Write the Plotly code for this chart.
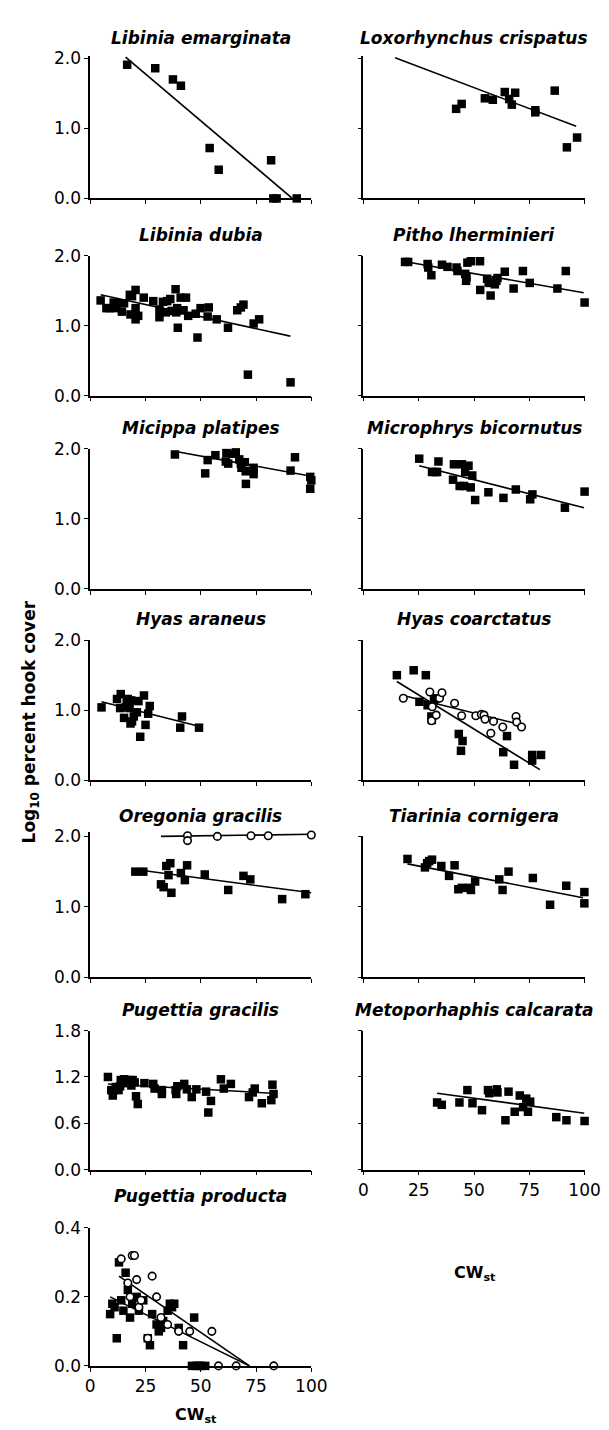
import plotly.graph_objects as go

# ---------------- data ----------------
# Libinia emarginata
le_x = [16.7, 29.4, 37.4, 41.0, 54.0, 58.1, 81.8, 82.8, 84.3, 93.4]
le_y = [1.91, 1.86, 1.70, 1.61, 0.72, 0.41, 0.545, 0.0, 0.0, 0.0]
le_fit_x = [16.0, 91.4]
le_fit_y = [2.02, 0.0]

# Loxorhynchus crispatus
lc_x = [41.9, 44.4, 54.9, 58.5, 63.9, 65.9, 67.1, 68.6, 77.7, 77.7, 86.5, 92.0, 96.6]
lc_y = [1.28, 1.35, 1.43, 1.41, 1.52, 1.42, 1.34, 1.51, 1.26, 1.23, 1.54, 0.73, 0.87]
lc_fit_x = [14.3, 96.2]
lc_fit_y = [2.01, 1.03]

# Libinia dubia
ld_x = [4.7, 7.3, 8.7, 10.6, 11.4, 12.1, 14.3, 15.3, 17.9, 18.2, 18.9, 20.5, 20.5, 20.5,
        21.7, 24.2, 28.5, 31.3, 31.3, 32.9, 34.2, 34.8, 36.2, 36.8, 38.6, 38.9, 39.3, 39.6,
        40.9, 41.5, 43.3, 44.3, 42.2, 47.7, 48.5, 49.9, 53.1, 53.6, 57.2, 62.3, 66.5, 68.1,
        69.3, 71.3, 73.9, 76.4, 90.6]
ld_y = [1.36, 1.25, 1.25, 1.33, 1.25, 1.32, 1.20, 1.32, 1.44, 1.16, 1.42, 1.51, 1.25, 1.09,
        1.14, 1.40, 1.35, 1.23, 1.12, 1.34, 1.19, 1.35, 1.38, 1.21, 1.52, 1.19, 1.25, 0.97,
        1.40, 1.22, 1.40, 1.14, 1.22, 1.17, 0.83, 1.25, 1.13, 1.26, 1.09, 0.97, 1.22, 1.26,
        1.30, 0.30, 1.03, 1.09, 0.19]
ld_fit_x = [4.7, 90.5]
ld_fit_y = [1.44, 0.85]

# Pitho lherminieri
pl_x = [18.8, 20.2, 29.0, 29.3, 30.7, 35.5, 38.0, 42.1, 42.5, 46.0, 46.6, 46.4, 47.0, 48.6,
        52.7, 52.8, 55.9, 56.6, 57.1, 57.5, 59.4, 60.1, 60.6, 63.9, 67.9, 72.1, 75.2, 87.7,
        91.5, 100.0]
pl_y = [1.91, 1.91, 1.88, 1.83, 1.72, 1.87, 1.84, 1.83, 1.78, 1.74, 1.69, 1.64, 1.90, 1.92,
        1.92, 1.51, 1.67, 1.62, 1.61, 1.43, 1.59, 1.64, 1.68, 1.77, 1.53, 1.78, 1.61, 1.53,
        1.78, 1.33]
pl_fit_x = [19.7, 99.6]
pl_fit_y = [1.91, 1.47]

# Micippa platipes
mp_x = [38.3, 52.0, 53.1, 56.6, 61.6, 61.3, 62.4, 64.8, 65.8, 67.4, 68.1, 68.4, 69.9, 70.3,
        70.4, 73.9, 73.9, 90.6, 92.6, 99.5, 100.0, 99.5]
mp_y = [1.92, 1.65, 1.84, 1.91, 1.94, 1.82, 1.79, 1.93, 1.95, 1.85, 1.79, 1.73, 1.81, 1.68,
        1.50, 1.73, 1.64, 1.69, 1.88, 1.60, 1.55, 1.43]
mp_fit_x = [39.3, 100.0]
mp_fit_y = [1.96, 1.61]

# Microphrys bicornutus
mb_x = [25.2, 31.0, 32.5, 33.3, 33.9, 40.5, 40.9, 43.5, 44.5, 45.5, 46.0, 47.5, 48.5, 49.2,
        50.5, 56.5, 63.3, 68.9, 75.4, 76.4, 91.1, 100.0]
mb_y = [1.86, 1.67, 1.67, 1.67, 1.82, 1.56, 1.78, 1.47, 1.78, 1.47, 1.67, 1.76, 1.45, 1.62,
        1.27, 1.38, 1.30, 1.42, 1.28, 1.35, 1.16, 1.39]
mb_fit_x = [25.2, 99.8]
mb_fit_y = [1.76, 1.16]

# Hyas araneus
ha_x = [5.1, 12.1, 13.8, 13.5, 15.3, 16.0, 16.5, 17.0, 17.8, 18.2, 18.9, 18.5, 19.7, 21.1,
        21.8, 22.6, 24.3, 25.0, 26.2, 26.9, 41.5, 40.7, 49.2]
ha_y = [1.04, 1.16, 1.23, 1.03, 0.89, 1.04, 1.12, 1.16, 1.03, 0.81, 0.84, 1.14, 0.91, 0.97,
        1.13, 0.62, 1.21, 0.79, 0.95, 1.06, 0.91, 0.75, 0.75]
ha_fit_x = [5.1, 49.2]
ha_fit_y = [1.12, 0.77]

# Hyas coarctatus (filled squares and open circles)
hc_sq_x = [15.1, 22.7, 28.2, 25.3, 29.0, 30.7, 30.9, 31.9, 32.6, 43.1, 44.8, 44.1, 63.2, 64.9,
           68.1, 76.3, 76.3, 80.3]
hc_sq_y = [1.50, 1.57, 1.50, 1.12, 1.07, 0.91, 0.86, 1.14, 1.17, 0.66, 0.56, 0.42, 0.40, 0.63,
           0.22, 0.36, 0.28, 0.36]
hc_sq_fit_x = [15.1, 79.8]
hc_sq_fit_y = [1.41, 0.15]
hc_ci_x = [18.0, 30.0, 31.1, 30.8, 32.9, 34.4, 35.5, 41.2, 44.4, 50.8, 53.3, 54.5, 55.0, 57.6,
           58.8, 63.0, 69.0, 69.3, 71.5]
hc_ci_y = [1.17, 1.26, 1.05, 0.85, 0.93, 1.17, 1.25, 1.10, 0.92, 0.92, 0.94, 0.93, 0.87, 0.67,
           0.84, 0.76, 0.91, 0.83, 0.76]
hc_ci_fit_x = [18.0, 71.5]
hc_ci_fit_y = [1.21, 0.79]

# Oregonia gracilis
og_sq_x = [20.4, 24.0, 32.0, 33.2, 34.4, 35.4, 36.2, 36.7, 41.0, 42.8, 43.8, 51.8, 62.4, 69.3,
           72.4, 86.8, 97.3]
og_sq_y = [1.50, 1.50, 1.32, 1.28, 1.58, 1.45, 1.62, 1.20, 1.48, 1.38, 1.59, 1.46, 1.24, 1.44,
           1.39, 1.11, 1.18]
og_sq_fit_x = [20.4, 100.0]
og_sq_fit_y = [1.53, 1.20]
og_ci_x = [44.0, 44.0, 57.5, 72.7, 80.5, 100.0]
og_ci_y = [2.01, 1.94, 2.00, 2.01, 2.01, 2.02]
og_ci_fit_x = [32.0, 100.0]
og_ci_fit_y = [2.00, 2.03]

# Tiarinia cornigera
tc_x = [19.9, 27.8, 28.8, 29.7, 31.0, 35.2, 38.7, 41.2, 42.9, 44.5, 47.9, 48.6, 50.5, 61.4,
        62.9, 65.6, 76.6, 84.4, 91.7, 99.9, 99.9]
tc_y = [1.68, 1.56, 1.62, 1.65, 1.67, 1.58, 1.44, 1.59, 1.25, 1.27, 1.27, 1.24, 1.36, 1.39,
        1.24, 1.50, 1.41, 1.03, 1.30, 1.21, 1.05]
tc_fit_x = [19.9, 99.3]
tc_fit_y = [1.61, 1.13]

# Pugettia gracilis
pg_x = [8.0, 9.5, 10.2, 10.9, 11.6, 12.8, 13.5, 13.8, 14.6, 15.3, 16.3, 17.2, 18.2, 19.2,
        18.6, 20.1, 20.7, 21.5, 24.5, 28.5, 29.1, 32.4, 32.4, 38.6, 38.9, 39.4, 42.5, 43.7,
        45.9, 48.0, 52.4, 53.4, 54.6, 59.1, 60.4, 63.6, 71.8, 73.5, 74.4, 77.6, 81.9, 82.4,
        82.9]
pg_y = [1.20, 1.03, 0.96, 1.03, 1.07, 1.03, 1.08, 1.16, 1.13, 1.17, 1.16, 1.12, 1.16, 1.16,
        1.09, 1.13, 0.95, 0.85, 1.12, 1.11, 1.05, 1.03, 0.98, 1.03, 0.98, 1.08, 1.11, 1.04,
        0.94, 1.04, 1.01, 0.74, 0.89, 1.17, 1.05, 1.11, 0.94, 1.00, 1.05, 0.86, 0.90, 1.10,
        0.98]
pg_fit_x = [8.0, 82.2]
pg_fit_y = [1.11, 0.99]

# Metoporhaphis calcarata
mc_x = [33.3, 35.4, 43.4, 47.0, 49.3, 53.6, 56.3, 56.9, 60.3, 60.6, 64.2, 65.6, 68.4, 70.7,
        72.2, 73.6, 74.4, 75.4, 87.2, 91.8, 100.0]
mc_y = [0.87, 0.84, 0.87, 1.03, 0.86, 0.77, 1.03, 0.99, 1.04, 1.00, 0.64, 1.01, 0.75, 0.96,
        0.81, 0.92, 0.75, 0.88, 0.68, 0.64, 0.63]
mc_fit_x = [33.3, 99.9]
mc_fit_y = [0.99, 0.73]

# Pugettia producta
pp_sq_x = [9, 10, 11, 12, 13, 14, 15, 16, 17, 18, 19, 21, 22, 24, 26, 27, 28, 30, 31, 32, 33,
           35, 36, 37, 38, 40, 42, 46, 47, 48, 49, 50, 52]
pp_sq_y = [0.15, 0.18, 0.17, 0.08, 0.30, 0.19, 0.16, 0.27, 0.22, 0.14, 0.18, 0.20, 0.16, 0.19,
           0.08, 0.06, 0.15, 0.12, 0.10, 0.11, 0.13, 0.16, 0.18, 0.17, 0.18, 0.11, 0.06, 0.0,
           0.14, 0.0, 0.0, 0.0, 0.0]
pp_sq_fit_x = [9.0, 72.0]
pp_sq_fit_y = [0.20, 0.0]
pp_ci_x = [14, 17, 18, 19, 20, 21, 22, 23, 26, 28, 30, 32, 35, 40, 45, 55, 58, 66, 83]
pp_ci_y = [0.31, 0.24, 0.20, 0.32, 0.32, 0.25, 0.17, 0.19, 0.08, 0.26, 0.20, 0.14, 0.12, 0.10,
           0.10, 0.10, 0.0, 0.0, 0.0]
pp_ci_fit_x = [13.0, 72.0]
pp_ci_fit_y = [0.26, 0.0]

x_ticks = [0, 25, 50, 75, 100]
y_ticks_2 = [0.0, 1.0, 2.0]
y_ticks_18 = [0.0, 0.6, 1.2, 1.8]
y_ticks_04 = [0.0, 0.2, 0.4]

# ---------------- panel definitions ----------------
panels = [
    dict(title="Libinia emarginata", row=0, col=0, yt=y_ticks_2, ytop=2.04,
         sq=[(le_x, le_y)], ci=[], fits=[(le_fit_x, le_fit_y)]),
    dict(title="Loxorhynchus crispatus", row=0, col=1, yt=y_ticks_2, ytop=2.03,
         sq=[(lc_x, lc_y)], ci=[], fits=[(lc_fit_x, lc_fit_y)]),
    dict(title="Libinia dubia", row=1, col=0, yt=y_ticks_2,
         sq=[(ld_x, ld_y)], ci=[], fits=[(ld_fit_x, ld_fit_y)]),
    dict(title="Pitho lherminieri", row=1, col=1, yt=y_ticks_2,
         sq=[(pl_x, pl_y)], ci=[], fits=[(pl_fit_x, pl_fit_y)]),
    dict(title="Micippa platipes", row=2, col=0, yt=y_ticks_2,
         sq=[(mp_x, mp_y)], ci=[], fits=[(mp_fit_x, mp_fit_y)]),
    dict(title="Microphrys bicornutus", row=2, col=1, yt=y_ticks_2,
         sq=[(mb_x, mb_y)], ci=[], fits=[(mb_fit_x, mb_fit_y)]),
    dict(title="Hyas araneus", row=3, col=0, yt=y_ticks_2,
         sq=[(ha_x, ha_y)], ci=[], fits=[(ha_fit_x, ha_fit_y)]),
    dict(title="Hyas coarctatus", row=3, col=1, yt=y_ticks_2,
         sq=[(hc_sq_x, hc_sq_y)], ci=[(hc_ci_x, hc_ci_y)],
         fits=[(hc_sq_fit_x, hc_sq_fit_y), (hc_ci_fit_x, hc_ci_fit_y)]),
    dict(title="Oregonia gracilis", row=4, col=0, yt=y_ticks_2, ytop=2.06,
         sq=[(og_sq_x, og_sq_y)], ci=[(og_ci_x, og_ci_y)],
         fits=[(og_sq_fit_x, og_sq_fit_y), (og_ci_fit_x, og_ci_fit_y)]),
    dict(title="Tiarinia cornigera", row=4, col=1, yt=y_ticks_2,
         sq=[(tc_x, tc_y)], ci=[], fits=[(tc_fit_x, tc_fit_y)]),
    dict(title="Pugettia gracilis", row=5, col=0, yt=y_ticks_18,
         sq=[(pg_x, pg_y)], ci=[], fits=[(pg_fit_x, pg_fit_y)]),
    dict(title="Metoporhaphis calcarata", row=5, col=1, yt=y_ticks_18, xlabels=True,
         sq=[(mc_x, mc_y)], ci=[], fits=[(mc_fit_x, mc_fit_y)]),
    dict(title="Pugettia producta", row=6, col=0, yt=y_ticks_04, xlabels=True,
         sq=[(pp_sq_x, pp_sq_y)], ci=[(pp_ci_x, pp_ci_y)],
         fits=[(pp_sq_fit_x, pp_sq_fit_y), (pp_ci_fit_x, pp_ci_fit_y)]),
]

# ---------------- layout geometry (pixels) ----------------
W, H = 609, 1430
col_px = [(80, 309), (363, 592)]
row_px = [(41, 183), (241, 383), (437, 579), (631, 773), (830, 973), (1027, 1168), (1227, 1367)]
FONT = "DejaVu Sans, Verdana, sans-serif"

fig = go.Figure()
layout = dict(width=W, height=H, margin=dict(l=0, r=0, t=0, b=0), autosize=False,
              paper_bgcolor="white", plot_bgcolor="rgba(0,0,0,0)", showlegend=False,
              font=dict(family=FONT, color="black", size=17))
annotations = []

for i, p in enumerate(panels, start=1):
    xa = "x" if i == 1 else f"x{i}"
    ya = "y" if i == 1 else f"y{i}"
    xl, xr = col_px[p["col"]]
    yt_px, yb_px = row_px[p["row"]]
    ymax = p["yt"][-1]
    ytop = p.get("ytop", ymax)
    # keep the top tick at the same pixel while letting the range reach ytop
    top_px = yb_px - (ytop / ymax) * (yb_px - yt_px)
    for fx, fy in p["fits"]:
        fig.add_trace(go.Scatter(x=fx, y=fy, mode="lines", xaxis=xa, yaxis=ya,
                                 line=dict(color="black", width=1.6), cliponaxis=False,
                                 hoverinfo="skip"))
    for sx, sy in p["sq"]:
        fig.add_trace(go.Scatter(x=sx, y=sy, mode="markers", xaxis=xa, yaxis=ya,
                                 marker=dict(symbol="square", size=8.5, color="black",
                                             line=dict(width=0)), cliponaxis=False))
    for cx, cy in p["ci"]:
        fig.add_trace(go.Scatter(x=cx, y=cy, mode="markers", xaxis=xa, yaxis=ya,
                                 marker=dict(symbol="circle", size=7.5, color="white",
                                             line=dict(width=1.6, color="black")),
                                 cliponaxis=False))
    show_y_labels = p["col"] == 0
    show_x_labels = p.get("xlabels", False)
    layout["xaxis" if i == 1 else f"xaxis{i}"] = dict(
        domain=[xl / W, xr / W], anchor=ya, range=[0, 100],
        showline=True, linecolor="black", linewidth=1.5, mirror=False,
        showgrid=False, zeroline=False, ticks="outside", ticklen=4, tickwidth=1.3,
        tickcolor="black", tickvals=x_ticks, showticklabels=show_x_labels,
        tickfont=dict(family=FONT, size=17, color="black"), fixedrange=True)
    layout["yaxis" if i == 1 else f"yaxis{i}"] = dict(
        domain=[1 - yb_px / H, 1 - top_px / H], anchor=xa, range=[0, ytop],
        showline=True, linecolor="black", linewidth=1.5,
        showgrid=False, zeroline=False, ticks="outside", ticklen=4, tickwidth=1.3,
        tickcolor="black", tickvals=p["yt"], tickformat=".1f",
        showticklabels=show_y_labels,
        tickfont=dict(family=FONT, size=17, color="black"), fixedrange=True)
    ty = 1195 if p["row"] == 6 else yt_px - 21
    annotations.append(dict(text=f"<b><i>{p['title']}</i></b>", xref="paper", yref="paper",
                            x=(xl + xr) / 2 / W, y=1 - ty / H, xanchor="center",
                            yanchor="middle", showarrow=False,
                            font=dict(family=FONT, size=17, color="black")))

annotations.append(dict(text="<b>Log<sub>10</sub> percent hook cover</b>", xref="paper",
                        yref="paper", x=18 / W, y=1 - 714 / H, textangle=-90,
                        xanchor="center", yanchor="middle", showarrow=False,
                        font=dict(family=FONT, size=17, color="black")))
annotations.append(dict(text="<b>CW<sub>st</sub></b>", xref="paper", yref="paper",
                        x=478 / W, y=1 - 1273 / H, xanchor="center", yanchor="middle",
                        showarrow=False, font=dict(family=FONT, size=16, color="black")))
annotations.append(dict(text="<b>CW<sub>st</sub></b>", xref="paper", yref="paper",
                        x=190 / W, y=1 - 1417 / H, xanchor="center", yanchor="middle",
                        showarrow=False, font=dict(family=FONT, size=16, color="black")))
layout["annotations"] = annotations
fig.update_layout(**layout)
fig.write_html("out.html")
